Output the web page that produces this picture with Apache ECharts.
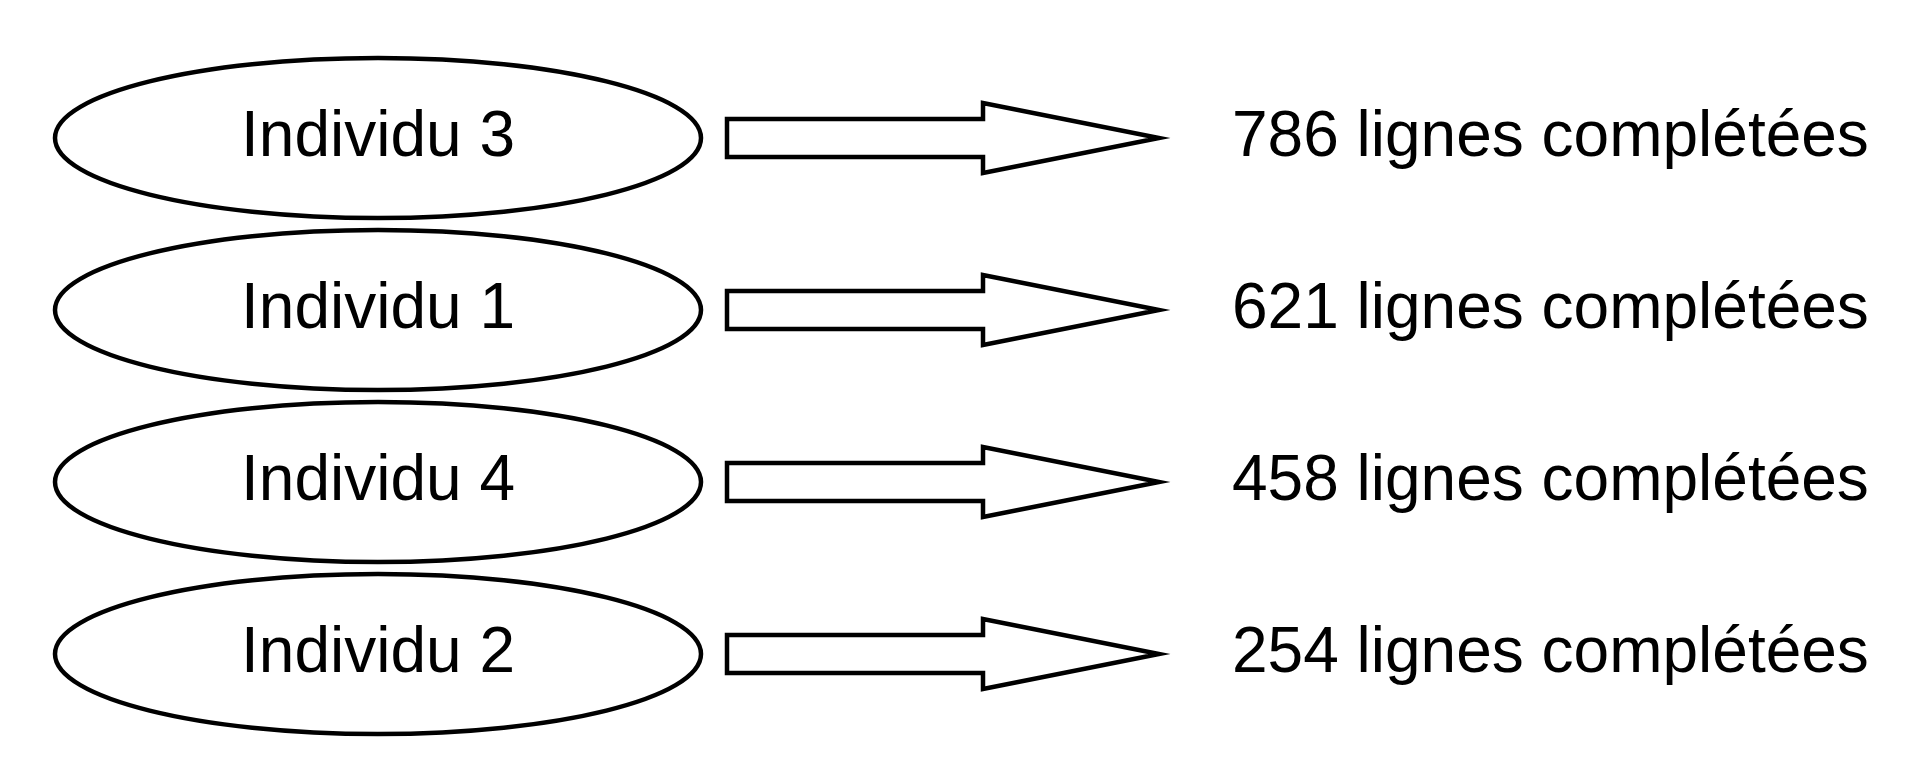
<!DOCTYPE html>
<html>
<head>
<meta charset="utf-8">
<script src="https://cdn.jsdelivr.net/npm/echarts@6/dist/echarts.min.js"></script>
<style>html,body{margin:0;padding:0;background:#fff}#c{width:1913px;height:772px}</style>
</head>
<body>
<div id="c"></div>
<script>
// rows, top to bottom
var individus = ['Individu 3', 'Individu 1', 'Individu 4', 'Individu 2'];
var lignes = [786, 621, 458, 254];

var chart = echarts.init(document.getElementById('c'));

var data = individus.map(function (name, i) { return [lignes[i], name]; });

function renderItem(params, api) {
  var y = api.coord([0, api.value(1)])[1];
  var cx = 378, rx = 323, ry = 80;
  var ax0 = 727, ax1 = 1159, hx = 983, sh = 19, hh = 35;
  return {
    type: 'group',
    children: [
      { type: 'ellipse', shape: { cx: cx, cy: y, rx: rx, ry: ry },
        style: { fill: '#fff', stroke: '#000', lineWidth: 4.5 } },
      { type: 'text', style: { x: cx, y: y, text: individus[params.dataIndex],
        align: 'center', verticalAlign: 'middle', fontSize: 64, fontFamily: 'Liberation Sans, Arial', fill: '#000' } },
      { type: 'polygon', shape: { points: [
          [ax0, y - sh], [hx, y - sh], [hx, y - hh], [ax1, y],
          [hx, y + hh], [hx, y + sh], [ax0, y + sh]] },
        style: { fill: '#fff', stroke: '#000', lineWidth: 4.5 } },
      { type: 'text', style: { x: 1232, y: y, text: api.value(0) + ' lignes complétées',
        align: 'left', verticalAlign: 'middle', fontSize: 64, fontFamily: 'Liberation Sans, Arial', fill: '#000' } }
    ]
  };
}

chart.setOption({
  animation: false,
  grid: { left: 0, right: 0, top: 52, bottom: 32 },
  xAxis: { type: 'value', min: 0, max: 1913, show: false },
  yAxis: { type: 'category', data: individus, inverse: true, show: false },
  series: [{ type: 'custom', renderItem: renderItem, data: data, encode: { x: 0, y: 1 } }]
});
</script>
</body>
</html>
